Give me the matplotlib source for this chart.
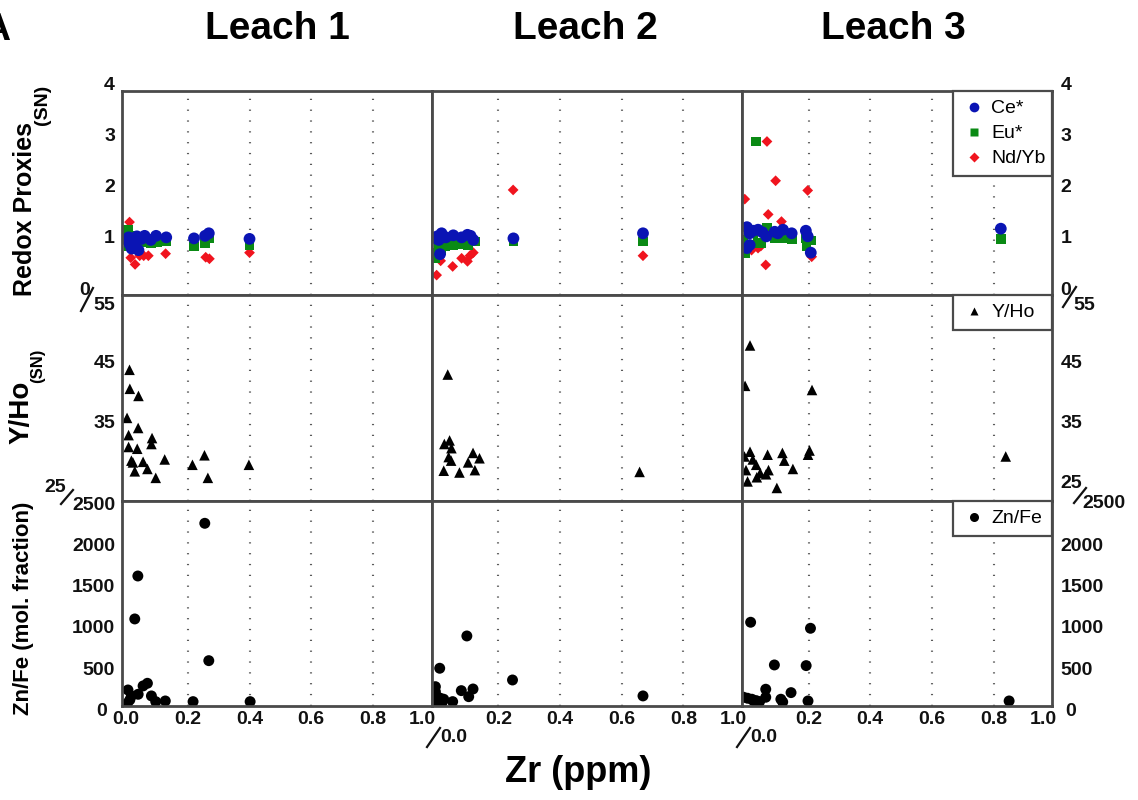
import matplotlib
matplotlib.use("Agg")
import matplotlib.pyplot as plt
from matplotlib.lines import Line2D
from matplotlib.transforms import blended_transform_factory, offset_copy

plt.rcParams['font.family'] = ['Liberation Sans', 'DejaVu Sans']

W, H = 1138, 800

# ---------------------------------------------------------------- data
leach_titles = ["Leach 1", "Leach 2", "Leach 3"]
zr_tick_labels = ["0.0", "0.2", "0.4", "0.6", "0.8", "1.0"]
zr_ticks = [0.0, 0.2, 0.4, 0.6, 0.8, 1.0]

# Redox proxies (shale normalised) vs Zr (ppm)
ce_zr_l1 = [0.003, 0.008, 0.012, 0.018, 0.022, 0.03, 0.035, 0.04, 0.05, 0.06, 0.08, 0.097, 0.13, 0.22, 0.256, 0.268, 0.40]
ce_l1 = [0.97, 1.02, 0.88, 0.80, 1.00, 0.95, 1.04, 0.77, 0.99, 1.05, 0.97, 1.05, 1.02, 1.00, 1.05, 1.10, 0.99]
eu_zr_l1 = [0.005, 0.01, 0.015, 0.025, 0.035, 0.05, 0.065, 0.08, 0.1, 0.13, 0.22, 0.256, 0.268, 0.40]
eu_l1 = [1.17, 0.85, 1.05, 0.92, 0.88, 0.92, 0.95, 0.91, 0.92, 0.95, 0.84, 0.90, 1.00, 0.87]
nd_zr_l1 = [0.011, 0.015, 0.029, 0.044, 0.057, 0.072, 0.128, 0.258, 0.27, 0.40]
nd_l1 = [1.32, 0.62, 0.49, 0.66, 0.66, 0.66, 0.70, 0.63, 0.60, 0.72]

ce_zr_l2 = [-0.003, 0.002, 0.007, 0.016, 0.011, 0.03, 0.054, 0.081, 0.1, 0.11, 0.119, 0.249, 0.669]
ce_l2 = [1.00, 1.04, 0.97, 1.10, 0.69, 1.02, 1.06, 1.02, 1.07, 1.05, 0.97, 1.00, 1.10]
eu_zr_l2 = [-0.005, 0.0, 0.007, 0.015, 0.028, 0.04, 0.054, 0.081, 0.103, 0.124, 0.249, 0.669]
eu_l2 = [0.61, 0.72, 0.81, 0.78, 0.84, 0.86, 0.87, 0.89, 0.86, 0.94, 0.94, 0.94]
nd_zr_l2 = [0.0, 0.013, 0.052, 0.081, 0.1, 0.108, 0.119, 0.248, 0.669]
nd_l2 = [0.28, 0.56, 0.45, 0.61, 0.55, 0.66, 0.72, 1.95, 0.66]

ce_zr_l3 = [0.0, 0.009, 0.0, 0.009, 0.02, 0.036, 0.05, 0.063, 0.09, 0.1, 0.117, 0.145, 0.191, 0.197, 0.207, 0.823]
ce_l3 = [1.22, 1.10, 0.81, 0.87, 1.15, 1.17, 1.12, 1.04, 1.13, 1.10, 1.17, 1.10, 1.15, 1.04, 0.72, 1.19]
eu_zr_l3 = [-0.013, -0.007, 0.02, 0.029, 0.036, 0.047, 0.065, 0.09, 0.123, 0.145, 0.191, 0.193, 0.207, 0.823]
eu_l3 = [0.97, 0.71, 1.10, 2.90, 0.91, 0.91, 1.20, 1.00, 1.00, 0.98, 1.00, 0.85, 0.96, 0.99]
nd_zr_l3 = [-0.007, 0.015, 0.036, 0.045, 0.061, 0.065, 0.069, 0.093, 0.112, 0.117, 0.197, 0.21]
nd_l3 = [1.77, 0.77, 0.81, 0.85, 0.48, 2.90, 1.47, 2.13, 1.33, 1.07, 1.94, 0.64]

# Y/Ho (shale normalised) vs Zr
yho_zr_l1 = [0.011, 0.012, 0.04, 0.003, 0.008, 0.039, 0.084, 0.082, 0.008, 0.036, 0.017, 0.022,
             0.055, 0.028, 0.069, 0.125, 0.096, 0.215, 0.254, 0.265, 0.398]
yho_l1 = [44.0, 40.8, 39.6, 35.9, 33.0, 34.2, 32.5, 31.5, 31.0, 30.7, 28.7, 28.4,
          28.5, 26.9, 27.3, 28.9, 25.8, 28.0, 29.6, 25.8, 28.0]
yho_zr_l2 = [0.036, 0.025, 0.042, 0.048, 0.039, 0.047, 0.023, 0.074, 0.102, 0.118, 0.124, 0.139, 0.658]
yho_l2 = [43.2, 31.5, 32.1, 30.8, 29.3, 28.7, 27.0, 26.7, 28.4, 30.0, 27.1, 29.1, 26.8]
yho_zr_l3 = [0.010, -0.006, 0.211, -0.008, 0.010, 0.019, -0.003, 0.030, 0.002, 0.032, 0.043,
             0.062, 0.070, 0.067, 0.097, 0.115, 0.121, 0.149, 0.198, 0.203, 0.839]
yho_l3 = [48.1, 41.3, 40.6, 29.4, 30.2, 28.9, 27.1, 28.0, 25.2, 25.9, 26.6,
          26.4, 27.1, 29.7, 24.1, 30.0, 28.7, 27.3, 29.7, 30.4, 29.4]

# Zn/Fe (mol. fraction) vs Zr
znfe_zr_l1 = [0.255, 0.038, 0.028, 0.268, 0.006, 0.055, 0.069, 0.039, 0.017, 0.004, 0.082,
              0.096, 0.127, 0.217, 0.402, 0.012]
znfe_l1 = [2278, 1640, 1120, 615, 260, 309, 341, 208, 188, 99, 188,
           119, 127, 119, 119, 140]
znfe_zr_l2 = [0.098, 0.010, 0.246, 0.080, 0.118, 0.104, 0.052, 0.669, -0.004, -0.004, 0.001,
              0.012, 0.023, -0.004, 0.007, 0.018]
znfe_l2 = [914, 523, 381, 252, 272, 179, 119, 188, 300, 240, 179,
           160, 148, 119, 119, 110]
znfe_zr_l3 = [0.012, 0.206, 0.089, 0.192, 0.061, 0.143, 0.061, 0.11, 0.116, 0.198, 0.850,
              -0.011, 0.002, 0.016, 0.021, 0.030, 0.041]
znfe_l3 = [1080, 1007, 563, 555, 269, 228, 172, 148, 115, 127, 127,
           172, 160, 148, 131, 131, 119]

ce_sets = [(ce_zr_l1, ce_l1), (ce_zr_l2, ce_l2), (ce_zr_l3, ce_l3)]
eu_sets = [(eu_zr_l1, eu_l1), (eu_zr_l2, eu_l2), (eu_zr_l3, eu_l3)]
nd_sets = [(nd_zr_l1, nd_l1), (nd_zr_l2, nd_l2), (nd_zr_l3, nd_l3)]
yho_sets = [(yho_zr_l1, yho_l1), (yho_zr_l2, yho_l2), (yho_zr_l3, yho_l3)]
znfe_sets = [(znfe_zr_l1, znfe_l1), (znfe_zr_l2, znfe_l2), (znfe_zr_l3, znfe_l3)]

redox_ticks = [1, 2, 3, 4]
yho_ticks = [35, 45]
znfe_ticks = [500, 1000, 1500, 2000]

# ---------------------------------------------------------------- styling
BLUE = '#0a14b4'
GREEN = '#0a8a14'
RED = '#f0141e'
SPINE = '#4a4a4a'
TICKFONT = dict(fontsize=14, fontweight='bold', color='#111111')

fig = plt.figure(figsize=(W / 100, H / 100), dpi=100)


def fpt(x, y):
    return x / W, 1 - y / H


col_left = [121.5, 432.0, 742.3]
col_w = 310.0
row_top = [91, 295, 501]
row_bot = [295, 501, 706]
ylims = [(-0.11, 3.89), (21.9, 56.6), (66, 2548)]
xlim = (-0.015, 0.99)

axes = [[None] * 3 for _ in range(3)]
for r in range(3):
    for c in range(3):
        ax = fig.add_axes([col_left[c] / W, 1 - row_bot[r] / H, col_w / W,
                           (row_bot[r] - row_top[r]) / H])
        ax.set_xlim(*xlim)
        ax.set_ylim(*ylims[r])
        ax.set_xticks([])
        ax.set_yticks([])
        for s in ax.spines.values():
            s.set_color(SPINE)
            s.set_linewidth(2.0)
            s.set_zorder(5)
        for v in zr_ticks[1:-1]:
            ax.axvline(v, color='#5a5a5a', lw=1.5, ls=(0, (0.6, 4.6)), zorder=0.5)
        axes[r][c] = ax

# ---------------------------------------------------------------- marks
for c in range(3):
    ax = axes[0][c]
    ax.scatter(*nd_sets[c], s=30, marker='D', color=RED, edgecolors='none', zorder=2)
    ax.scatter(*eu_sets[c], s=50, marker='s', color=GREEN, edgecolors='none', zorder=3)
    ax.scatter(*ce_sets[c], s=72, marker='o', color=BLUE, edgecolors='none', zorder=4)

    ax = axes[1][c]
    ax.scatter(*yho_sets[c], s=58, marker='^', color='black', edgecolors='none', zorder=3)

    ax = axes[2][c]
    ax.scatter(*znfe_sets[c], s=62, marker='o', color='black', edgecolors='none', zorder=3)


# ---------------------------------------------------------------- legends
def add_legend(ax, handles, labels):
    leg = ax.legend(handles, labels, loc='upper right', bbox_to_anchor=(1 - 0.319, 0, 0.319, 1),
                    mode='expand', borderaxespad=0, fancybox=False, framealpha=1,
                    edgecolor=SPINE, fontsize=14, handlelength=1.2, handletextpad=0.3,
                    borderpad=0.45, labelspacing=0.38)
    leg.get_frame().set_linewidth(1.6)
    leg.set_zorder(6)
    return leg


h_ce = Line2D([], [], ls='none', marker='o', ms=7, color=BLUE, mec='none')
h_eu = Line2D([], [], ls='none', marker='s', ms=6, color=GREEN, mec='none')
h_nd = Line2D([], [], ls='none', marker='D', ms=5, color=RED, mec='none')
h_yho = Line2D([], [], ls='none', marker='^', ms=6, color='black', mec='none')
h_zn = Line2D([], [], ls='none', marker='o', ms=6.5, color='black', mec='none')
add_legend(axes[0][2], [h_ce, h_eu, h_nd], ["Ce*", "Eu*", "Nd/Yb"])
add_legend(axes[1][2], [h_yho], ["Y/Ho"])
add_legend(axes[2][2], [h_zn], ["Zn/Fe"])

# ---------------------------------------------------------------- y tick labels
row_ticks = [redox_ticks, yho_ticks, znfe_ticks]
for r in range(3):
    axl, axr = axes[r][0], axes[r][2]
    tl = offset_copy(axl.get_yaxis_transform(), fig=fig, x=-6.5, y=0, units='dots')
    tr = offset_copy(axr.get_yaxis_transform(), fig=fig, x=8, y=0, units='dots')
    for v in row_ticks[r]:
        axl.text(0, v, f"{v}", transform=tl, ha='right', va='center', clip_on=False, **TICKFONT)
        axr.text(1, v, f"{v}", transform=tr, ha='left', va='center', clip_on=False, **TICKFONT)

# zero of the Zn/Fe scale, set apart from the Zr labels
axl, axr = axes[2][0], axes[2][2]
axl.text(0, 0, "0", transform=offset_copy(axl.get_yaxis_transform(), fig=fig, x=-19.5, y=0, units='dots'),
         ha='center', va='center', clip_on=False, **TICKFONT)
axr.text(1, 0, "0", transform=offset_copy(axr.get_yaxis_transform(), fig=fig, x=18, y=0, units='dots'),
         ha='center', va='center', clip_on=False, **TICKFONT)


def ftext(x, y, s, **kw):
    fig.text(*fpt(x, y), s, **kw)


def slash(x0, y0, x1, y1):
    fig.add_artist(Line2D([x0 / W, x1 / W], [1 - y0 / H, 1 - y1 / H],
                          transform=fig.transFigure, color='#111111', lw=1.6))


# axis breaks between rows: upper axis minimum / lower axis maximum
ftext(85, 290, "0", ha='center', va='center', **TICKFONT)
slash(81, 311, 93, 288)
ftext(115, 305, "55", ha='right', va='center', **TICKFONT)
ftext(66, 487, "25", ha='right', va='center', **TICKFONT)
slash(61, 504, 73, 490)
ftext(115, 505, "2500", ha='right', va='center', **TICKFONT)

ftext(1060, 290, "0", ha='left', va='center', **TICKFONT)
slash(1063, 307, 1076, 287)
ftext(1073, 305, "55", ha='left', va='center', **TICKFONT)
ftext(1060, 483, "25", ha='left', va='center', **TICKFONT)
slash(1074, 503, 1086, 488)
ftext(1082, 504, "2500", ha='left', va='center', **TICKFONT)

# ---------------------------------------------------------------- x tick labels
for c in range(3):
    ax = axes[2][c]
    tx = blended_transform_factory(ax.transData, fig.transFigure)
    for v, lab in zip(zr_ticks, zr_tick_labels):
        if v == 0.0 and c > 0:
            t = offset_copy(tx, fig=fig, x=17, y=-17, units='dots')
        elif v == 1.0:
            t = offset_copy(tx, fig=fig, x=-12, y=0, units='dots')
        else:
            t = tx
        ax.text(v, 1 - 720 / H, lab, transform=t, ha='center', va='center',
                clip_on=False, **TICKFONT)

slash(427, 747, 440, 728)
slash(737, 747, 750, 728)

# ---------------------------------------------------------------- titles and axis names
for xc, title in zip([277, 585, 893], leach_titles):
    ftext(xc, 29, title, ha='center', va='center', fontsize=28, fontweight='bold')
ftext(-18, 30, "A", ha='left', va='center', fontsize=28, fontweight='bold')

ftext(578, 773, "Zr (ppm)", ha='center', va='center', fontsize=26, fontweight='bold')

ftext(25, 209, "Redox Proxies", ha='center', va='center', rotation=90,
      fontsize=18, fontweight='bold')
ftext(42.5, 104.5, "(SN)", ha='center', va='center', rotation=90,
      fontsize=14, fontweight='bold')
ftext(22, 412, "Y/Ho", ha='center', va='center', rotation=90,
      fontsize=20, fontweight='bold')
ftext(38, 366, "(SN)", ha='center', va='center', rotation=90,
      fontsize=12, fontweight='bold')
ftext(24, 608, "Zn/Fe (mol. fraction)", ha='center', va='center', rotation=90,
      fontsize=16, fontweight='bold')

fig.savefig("out.png", dpi=100)
